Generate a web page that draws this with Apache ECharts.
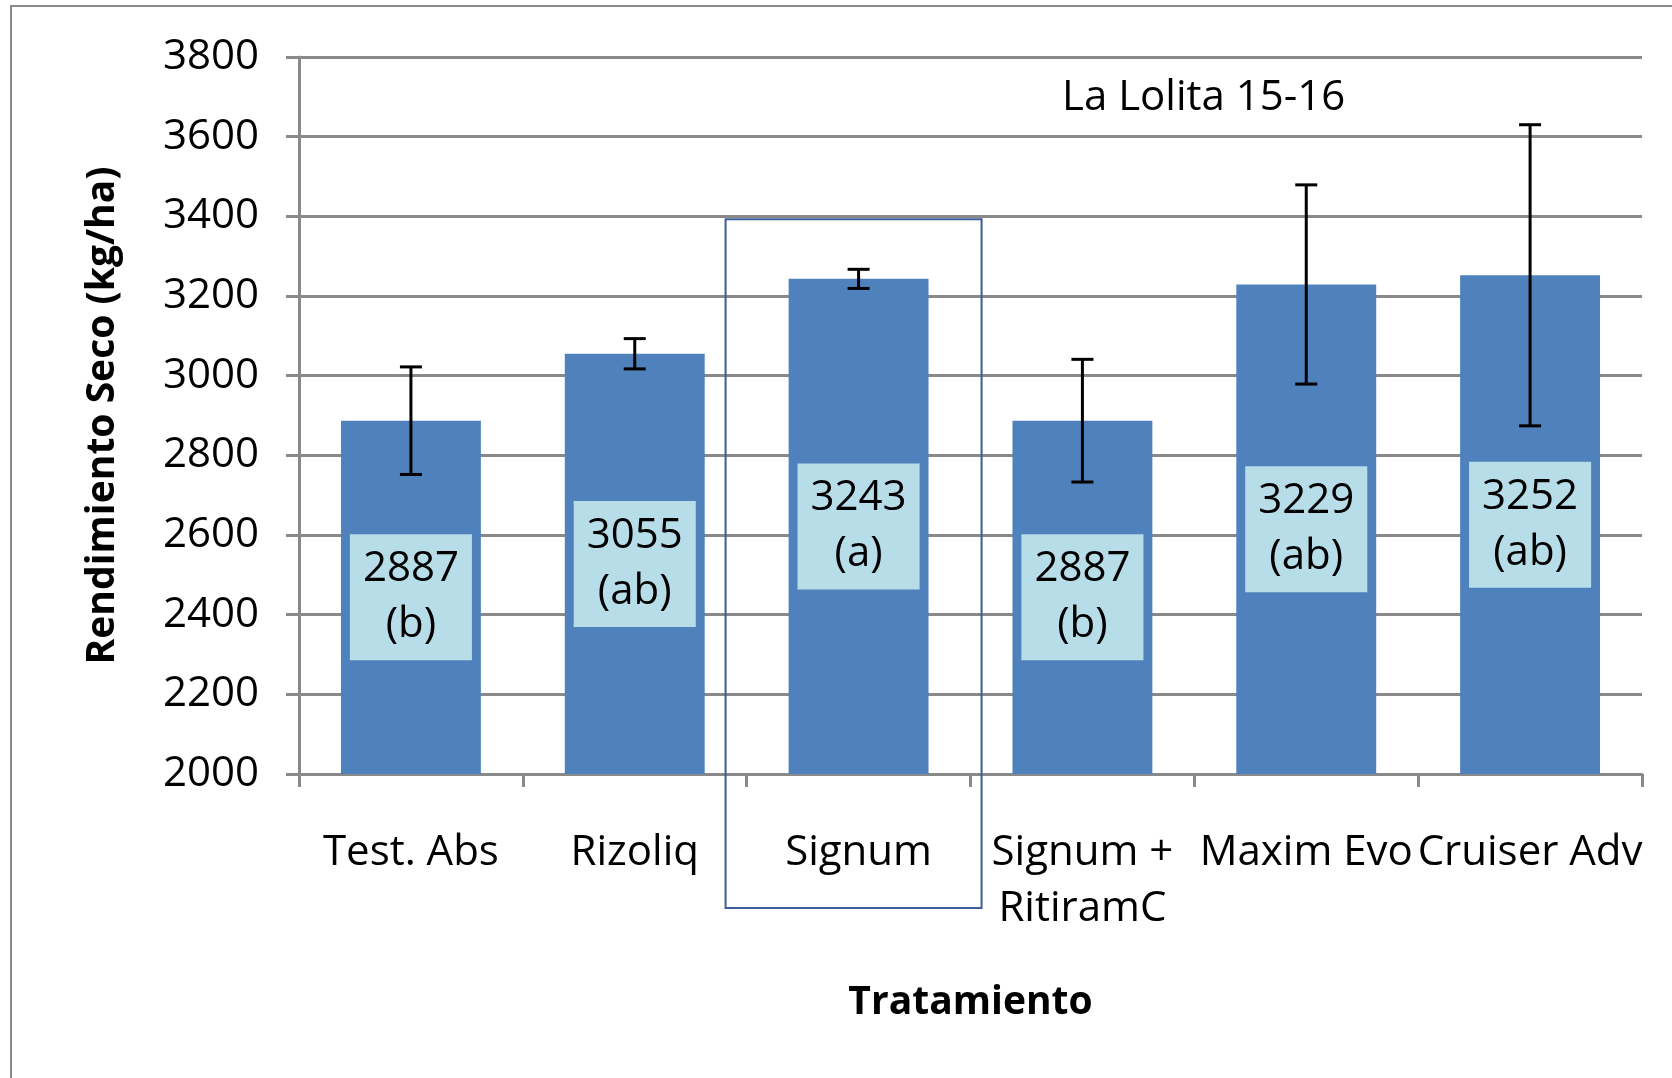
<!DOCTYPE html>
<html>
<head>
<meta charset="utf-8">
<script src="https://cdn.jsdelivr.net/npm/echarts@6/dist/echarts.min.js"></script>
<style>
  html, body { margin: 0; padding: 0; background: #fff; }
  #bar-chart { width: 1672px; height: 1078px; }
</style>
</head>
<body>
<div id="bar-chart"></div>
<script>
// data
var categories = ['Test. Abs', 'Rizoliq', 'Signum', 'Signum +\nRitiramC', 'Maxim Evo', 'Cruiser Adv'];
var yields = [2887, 3055, 3243, 2887, 3229, 3252];
var letters = ['b', 'ab', 'a', 'b', 'ab', 'ab'];
var errors = [135, 38, 24, 154, 250, 378];

var errorData = yields.map(function (v, i) {
    return [i, v - errors[i], v + errors[i]];
});

var myChart = echarts.init(document.getElementById('bar-chart'));
var font = '"Open Sans", sans-serif';
var grey = '#898989';

option = {
    animation: false,
    title: {
        text: 'La Lolita 15-16',
        left: 1062,
        top: 77,
        padding: 0,
        textStyle: { fontFamily: font, fontSize: 42, fontWeight: 'normal', color: '#000' }
    },
    grid: { left: 299, right: 30, top: 57, bottom: 304 },
    xAxis: {
        type: 'category',
        data: categories,
        name: 'Tratamiento',
        nameLocation: 'middle',
        nameGap: 209,
        nameTextStyle: { fontFamily: font, fontSize: 39, fontWeight: 'bold', color: '#000' },
        axisLine: { lineStyle: { color: grey, width: 3 } },
        axisTick: { show: true, length: 13, lineStyle: { color: grey, width: 3 } },
        axisLabel: {
            interval: 0,
            margin: 51,
            fontFamily: font,
            fontSize: 42,
            lineHeight: 56,
            color: '#000'
        }
    },
    yAxis: {
        type: 'value',
        min: 2000,
        max: 3800,
        interval: 200,
        name: 'Rendimiento Seco (kg/ha)',
        nameLocation: 'middle',
        nameRotate: 90,
        nameGap: 177,
        nameTextStyle: { fontFamily: font, fontSize: 39, fontWeight: 'bold', color: '#000' },
        axisLine: { show: true, lineStyle: { color: grey, width: 3 } },
        axisTick: { show: true, length: 13, lineStyle: { color: grey, width: 3 } },
        axisLabel: {
            margin: 40,
            fontFamily: font,
            fontSize: 42,
            color: '#000',
            formatter: function (v) { return String(v); }
        },
        splitLine: { lineStyle: { color: grey, width: 3 } }
    },
    series: [
        {
            type: 'bar',
            data: yields,
            barCategoryGap: '37.5%',
            itemStyle: { color: '#4F81BD' },
            label: {
                show: true,
                position: 'inside',
                formatter: function (p) {
                    return yields[p.dataIndex] + '\n(' + letters[p.dataIndex] + ')';
                },
                fontFamily: font,
                fontSize: 42,
                lineHeight: 56,
                color: '#000',
                backgroundColor: '#B7DDE8',
                padding: [14, 13, 0, 13]
            }
        },
        {
            type: 'custom',
            z: 5,
            data: errorData,
            renderItem: function (params, api) {
                var x = api.value(0);
                var lo = api.coord([x, api.value(1)]);
                var hi = api.coord([x, api.value(2)]);
                var cap = 11;
                var st = { stroke: '#000', lineWidth: 3 };
                return {
                    type: 'group',
                    children: [
                        { type: 'line', shape: { x1: lo[0], y1: lo[1], x2: hi[0], y2: hi[1] }, style: st },
                        { type: 'line', shape: { x1: hi[0] - cap, y1: hi[1], x2: hi[0] + cap, y2: hi[1] }, style: st },
                        { type: 'line', shape: { x1: lo[0] - cap, y1: lo[1], x2: lo[0] + cap, y2: lo[1] }, style: st }
                    ]
                };
            }
        }
    ]
};

myChart.setOption(option, true);

// outer chart border and the box drawn round "Signum"
var c = myChart.convertToPixel({ seriesIndex: 0 }, [2, 3400]);
var base = myChart.convertToPixel({ seriesIndex: 0 }, [2, 2000]);
myChart.setOption({
    graphic: [
        {
            type: 'rect',
            shape: { x: 11, y: 6, width: 1700, height: 1100 },
            style: { fill: 'none', stroke: '#8a8a8a', lineWidth: 2 },
            silent: true
        },
        {
            type: 'rect',
            z: 10,
            shape: { x: c[0] - 133, y: c[1] + 3, width: 256, height: base[1] + 134 - c[1] - 3 },
            style: { fill: 'none', stroke: '#3B5E9B', lineWidth: 2 },
            silent: true
        }
    ]
});
</script>
</body>
</html>
